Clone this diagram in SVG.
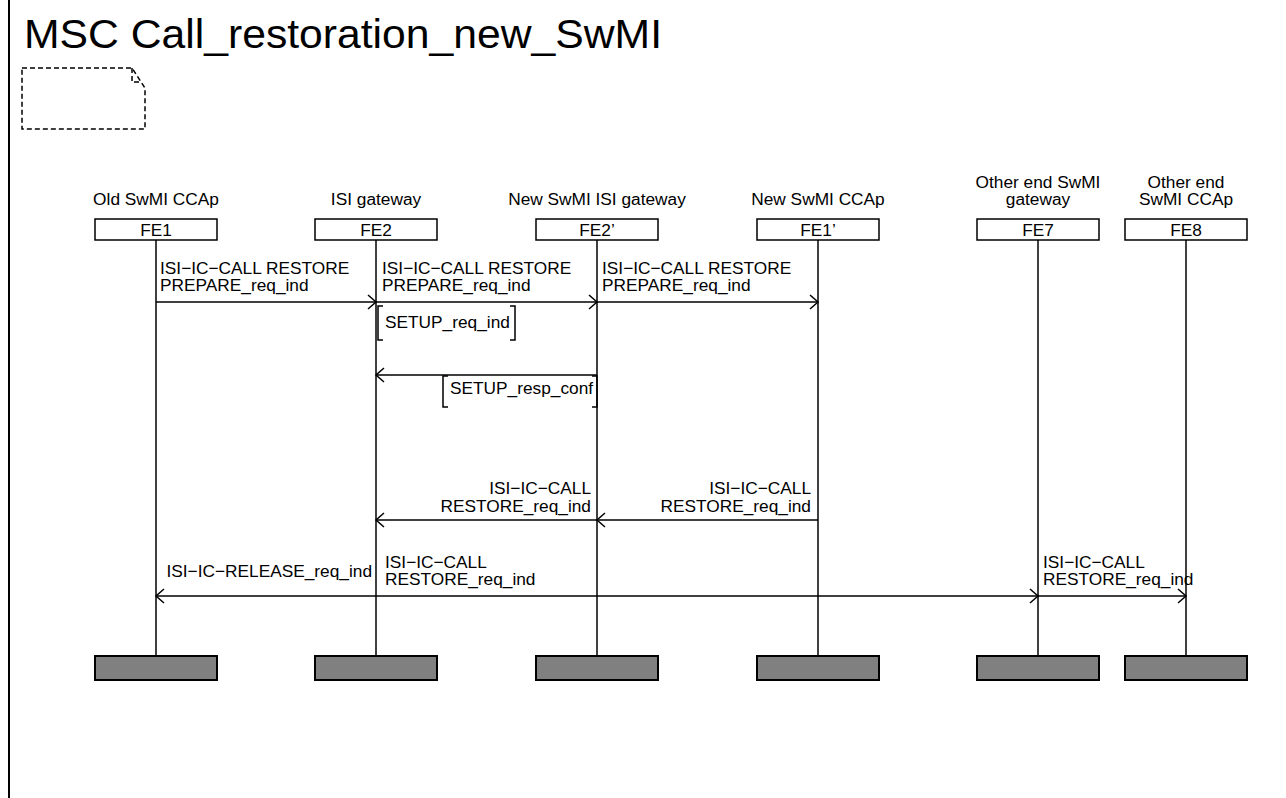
<svg xmlns="http://www.w3.org/2000/svg" width="1286" height="798" viewBox="0 0 1286 798">
<style>
text{font-family:"Liberation Sans",Arial,sans-serif;fill:#000}
.t{font-size:17.3px}
.c{text-anchor:middle}
.r{text-anchor:end}
.hd{fill:#fff;stroke:#000;stroke-width:1.5}
.ft{fill:#808080;stroke:#000;stroke-width:2}
.ll{stroke:#000;stroke-width:1.5}
.msg{stroke:#000;stroke-width:1.5;fill:none;marker-end:url(#ah)}
.br{stroke:#000;stroke-width:1.5;fill:none}
</style>
<defs>
<marker id="ah" markerUnits="userSpaceOnUse" markerWidth="20" markerHeight="20" viewBox="-10 -10 20 20" refX="0" refY="0" orient="auto">
<path d="M-8,-7 L0,0 L-8,7" fill="none" stroke="#000" stroke-width="1.5"/>
</marker>
</defs>
<rect width="1286" height="798" fill="#fff"/>
<line x1="9" y1="0" x2="9" y2="798" stroke="#000" stroke-width="2"/>
<text x="24" y="48" font-size="41" textLength="638" lengthAdjust="spacingAndGlyphs">MSC Call_restoration_new_SwMI</text>
<g id="comment" fill="none" stroke="#000" stroke-width="1.5" stroke-dasharray="5,3">
<path d="M22,68 L132,68 L145,88 L145,129 L22,129 Z"/>
<path d="M132,68 L132,82 L140,82"/>
</g>
<g id="FE1">
<text class="t c" x="156" y="205">Old SwMI CCAp</text>
<rect class="hd" x="95" y="219" width="122" height="21"/>
<text class="t c" x="156" y="236">FE1</text>
<line class="ll" x1="156" y1="240" x2="156" y2="656"/>
<rect class="ft" x="95" y="656" width="122" height="24"/>
</g>
<g id="FE2">
<text class="t c" x="376" y="205">ISI gateway</text>
<rect class="hd" x="315" y="219" width="122" height="21"/>
<text class="t c" x="376" y="236">FE2</text>
<line class="ll" x1="376" y1="240" x2="376" y2="656"/>
<rect class="ft" x="315" y="656" width="122" height="24"/>
</g>
<g id="FE2p">
<text class="t c" x="597" y="205">New SwMI ISI gateway</text>
<rect class="hd" x="536" y="219" width="122" height="21"/>
<text class="t c" x="597" y="236">FE2’</text>
<line class="ll" x1="597" y1="240" x2="597" y2="656"/>
<rect class="ft" x="536" y="656" width="122" height="24"/>
</g>
<g id="FE1p">
<text class="t c" x="818" y="205">New SwMI CCAp</text>
<rect class="hd" x="757" y="219" width="122" height="21"/>
<text class="t c" x="818" y="236">FE1’</text>
<line class="ll" x1="818" y1="240" x2="818" y2="656"/>
<rect class="ft" x="757" y="656" width="122" height="24"/>
</g>
<g id="FE7">
<text class="t c" x="1038" y="188">Other end SwMI</text>
<text class="t c" x="1038" y="205">gateway</text>
<rect class="hd" x="977" y="219" width="122" height="21"/>
<text class="t c" x="1038" y="236">FE7</text>
<line class="ll" x1="1038" y1="240" x2="1038" y2="656"/>
<rect class="ft" x="977" y="656" width="122" height="24"/>
</g>
<g id="FE8">
<text class="t c" x="1186" y="188">Other end</text>
<text class="t c" x="1186" y="205">SwMI CCAp</text>
<rect class="hd" x="1125" y="219" width="122" height="21"/>
<text class="t c" x="1186" y="236">FE8</text>
<line class="ll" x1="1186" y1="240" x2="1186" y2="656"/>
<rect class="ft" x="1125" y="656" width="122" height="24"/>
</g>
<g id="connectors">
<line class="msg" x1="156" y1="302" x2="376" y2="302"/>
<text class="t" x="160" y="274">ISI−IC−CALL RESTORE</text>
<text class="t" x="160" y="291">PREPARE_req_ind</text>
<line class="msg" x1="376" y1="302" x2="597" y2="302"/>
<text class="t" x="382" y="274">ISI−IC−CALL RESTORE</text>
<text class="t" x="382" y="291">PREPARE_req_ind</text>
<line class="msg" x1="597" y1="302" x2="818" y2="302"/>
<text class="t" x="602" y="274">ISI−IC−CALL RESTORE</text>
<text class="t" x="602" y="291">PREPARE_req_ind</text>
<path class="br" d="M383,306 L378,306 L378,340 L383,340 M510,306 L515,306 L515,340 L510,340"/>
<text class="t" x="385" y="328">SETUP_req_ind</text>
<line class="msg" x1="597" y1="375" x2="376" y2="375"/>
<path class="br" d="M448,376 L443,376 L443,407 L448,407 M592,376 L597,376 L597,407 L592,407"/>
<text class="t" x="450" y="394">SETUP_resp_conf</text>
<line class="msg" x1="818" y1="520" x2="597" y2="520"/>
<text class="t r" x="811" y="494">ISI−IC−CALL</text>
<text class="t r" x="811" y="512">RESTORE_req_ind</text>
<line class="msg" x1="597" y1="520" x2="376" y2="520"/>
<text class="t r" x="591" y="494">ISI−IC−CALL</text>
<text class="t r" x="591" y="512">RESTORE_req_ind</text>
<line class="msg" x1="376" y1="596" x2="156" y2="596"/>
<text class="t r" x="372" y="577">ISI−IC−RELEASE_req_ind</text>
<line class="msg" x1="376" y1="596" x2="1038" y2="596"/>
<text class="t" x="385" y="568">ISI−IC−CALL</text>
<text class="t" x="385" y="585">RESTORE_req_ind</text>
<line class="msg" x1="1038" y1="596" x2="1186" y2="596"/>
<text class="t" x="1043" y="568">ISI−IC−CALL</text>
<text class="t" x="1043" y="585">RESTORE_req_ind</text>
</g>
</svg>
